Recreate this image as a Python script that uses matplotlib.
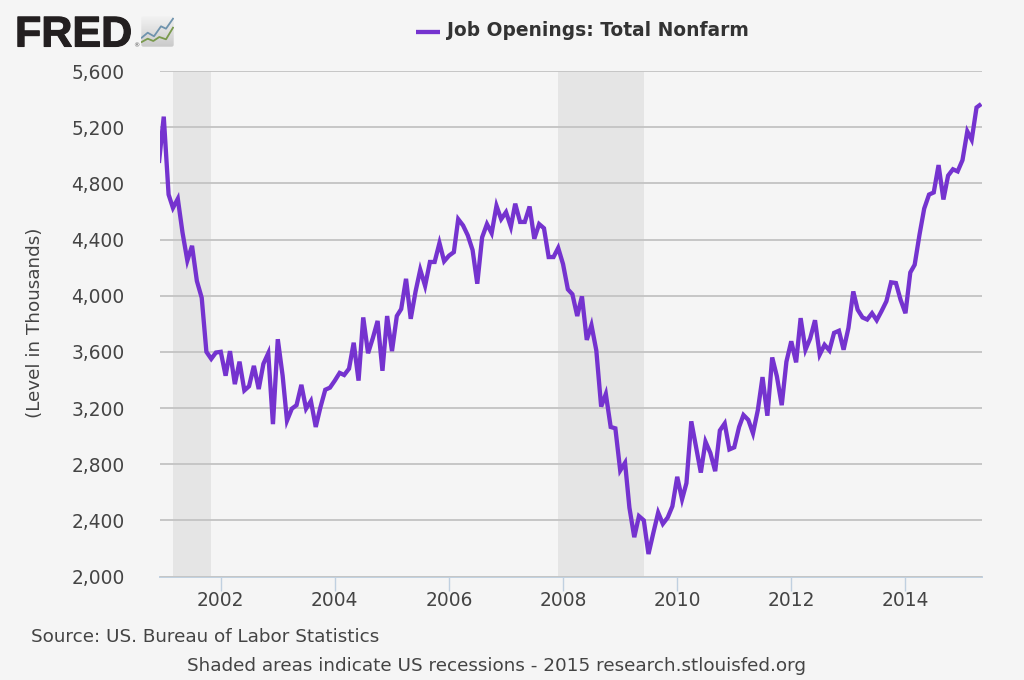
import matplotlib
matplotlib.use("Agg")
import matplotlib.pyplot as plt
import matplotlib.patheffects as pe
from matplotlib.patches import FancyBboxPatch
import numpy as np
import pandas as pd

TITLE = "Job Openings: Total Nonfarm"
YLABEL = "(Level in Thousands)"
SOURCE = "Source: US. Bureau of Labor Statistics"
NOTE = "Shaded areas indicate US recessions - 2015 research.stlouisfed.org"

values_2000s_a = [4945, 5275, 4720, 4625, 4690, 4450, 4250, 4355, 4105, 3985,
                  3600, 3550, 3595, 3600, 3430, 3605, 3370, 3530, 3325, 3355,
                  3500, 3335, 3515, 3590, 3085, 3690, 3430, 3110, 3195, 3220,
                  3365, 3195, 3250, 3065, 3205, 3330, 3345, 3395, 3450, 3435,
                  3480, 3665, 3395, 3845, 3590, 3700, 3820, 3465, 3855, 3605,
                  3855, 3905, 4120, 3835, 4030, 4185, 4070, 4240, 4240, 4375,
                  4245, 4285]
values_2000s_b = [4310, 4545, 4500, 4430, 4325, 4085, 4415, 4510, 4445, 4640,
                  4545, 4595, 4490, 4655, 4525, 4525, 4635, 4405, 4510, 4480,
                  4275, 4275, 4340, 4225, 4045, 4010, 3855, 3995, 3685, 3790,
                  3610, 3210, 3300, 3065, 3055, 2755, 2810, 2490, 2280, 2430,
                  2400, 2160, 2310, 2455, 2375, 2420, 2500, 2710, 2550, 2665,
                  3105, 2925, 2740, 2960, 2880, 2750, 3040]
values_2010s = [3090, 2905, 2920, 3065, 3150, 3115, 3020, 3185, 3420, 3145,
                3560, 3425, 3220, 3530, 3675, 3525, 3840, 3615, 3695, 3825,
                3580, 3650, 3610, 3735, 3750, 3615, 3770, 4030, 3900, 3845,
                3830, 3875, 3825, 3890, 3960, 4095, 4090, 3970, 3875, 4165,
                4220, 4435, 4620, 4720, 4735, 4930, 4685, 4855, 4900, 4885,
                4965, 5170, 5110, 5340, 5365]
values = values_2000s_a + values_2000s_b + values_2010s
dates = pd.date_range("2000-12-01", periods=len(values), freq="MS")

recessions = [("2001-03-01", "2001-11-01"), ("2007-12-01", "2009-06-01")]
y_ticks = [2000, 2400, 2800, 3200, 3600, 4000, 4400, 4800, 5200, 5600]
x_tick_years = [2002, 2004, 2006, 2008, 2010, 2012, 2014]
x_start = "2000-12-08"
x_end = "2015-05-06"

logo_x_blue = [0.7, 6.7, 13, 20, 25, 32]
logo_y_blue = [9.3, 14.3, 10.7, 20.7, 18.3, 28.3]
logo_x_green = [0.7, 6.7, 12.3, 18.3, 25, 32]
logo_y_green = [5, 8.3, 6, 10, 7.7, 19.3]

BG = "#f5f5f5"
PURPLE = "#7533cf"
TXT = "#444444"
W, H = 1024, 680

fig = plt.figure(figsize=(10.24, 6.8), dpi=100, facecolor=BG)
ax = fig.add_axes([160 / W, 1 - 576.5 / H, 822 / W, 505.5 / H], facecolor=BG)

for a, b in recessions:
    ax.axvspan(pd.Timestamp(a), pd.Timestamp(b), color="#e5e5e5", lw=0, zorder=1)

ax.plot(dates, values, color=PURPLE, lw=3.1, solid_joinstyle="miter",
        solid_capstyle="butt", zorder=3, clip_on=True)

ax.set_ylim(2000, 5600)
ax.set_xlim(pd.Timestamp(x_start), pd.Timestamp(x_end))
ax.set_yticks(y_ticks)
ax.set_yticklabels([f"{v:,}" for v in y_ticks])
ax.set_xticks([pd.Timestamp(f"{y}-01-01") for y in x_tick_years])
ax.set_xticklabels([str(y) for y in x_tick_years])
ax.yaxis.grid(True, color="#c6c6c6", lw=1.4, zorder=2)
ax.set_axisbelow(False)
for ln in ax.get_ygridlines():
    ln.set_zorder(2)
for s in ["top", "right", "left"]:
    ax.spines[s].set_visible(False)
ax.spines["bottom"].set_color("#c0d0e0")
ax.spines["bottom"].set_linewidth(1.4)
ax.tick_params(axis="y", length=0, pad=25.5, labelsize=13.4, labelcolor=TXT)
ax.tick_params(axis="x", length=10, width=1, color="#c0d0e0", pad=0.7,
               labelsize=13.4, labelcolor=TXT)

fig.text(35 / W, 1 - 323 / H, YLABEL, rotation=90, ha="center", va="center",
         fontsize=13.2, color=TXT)
fig.text(31 / W, 1 - 637 / H, SOURCE, ha="left", va="center", fontsize=13.2, color=TXT)
fig.text(187 / W, 1 - 666 / H, NOTE, ha="left", va="center", fontsize=13.2, color=TXT)

# legend
fig.add_artist(plt.Line2D([415.5 / W, 440 / W], [1 - 31.5 / H] * 2, color=PURPLE, lw=3.1,
                          solid_capstyle="butt"))
fig.text(447.5 / W, 1 - 31 / H, TITLE, ha="left", va="center", fontsize=13.4,
         fontweight="bold", color="#333333")

# FRED logo
fig.text(15 / W, 1 - 46.5 / H, "FRED", ha="left", va="baseline", fontsize=31,
         family="Liberation Sans", fontweight="bold", color="#231f20",
         path_effects=[pe.withStroke(linewidth=0.8, foreground="#231f20")])
fig.text(133.5 / W, 1 - 47 / H, "®", ha="left", va="baseline", fontsize=4.5, color="#555555")

logo = fig.add_axes([141 / W, 1 - 47 / H, 33 / W, 31 / H])
logo.axis("off")
box = FancyBboxPatch((0.3, 0.3), 32.4, 30.4, boxstyle="round,pad=0,rounding_size=2",
                     fc="none", ec="none")
logo.add_patch(box)
grad = logo.imshow(np.linspace(0.95, 0.79, 64).reshape(-1, 1), cmap="gray", vmin=0, vmax=1,
                   extent=(0, 33, 0, 31), aspect="auto", origin="upper")
grad.set_clip_path(box)
logo.plot(logo_x_blue, logo_y_blue, color="#6f93ad", lw=1.3)
logo.plot(logo_x_green, logo_y_green, color="#7a9a4e", lw=1.3)
logo.set_xlim(0, 33)
logo.set_ylim(0, 31)

fig.savefig("out.png", dpi=100, facecolor=BG)
